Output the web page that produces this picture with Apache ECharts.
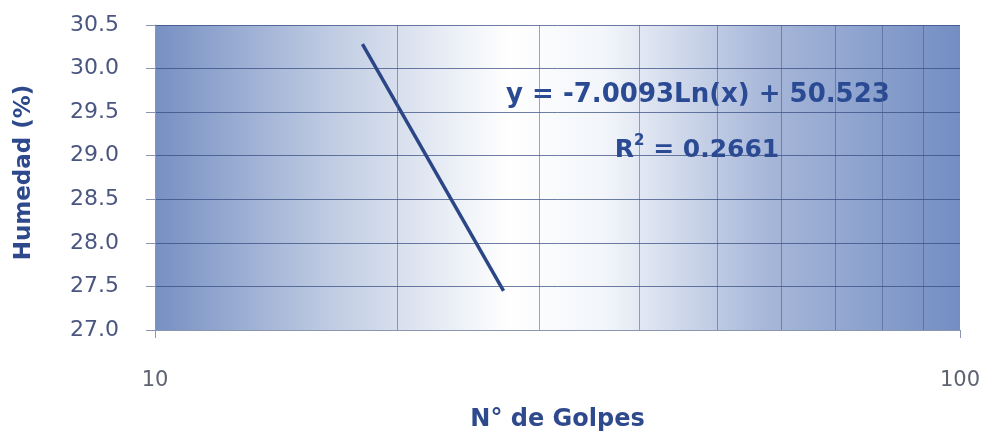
<!DOCTYPE html>
<html>
<head>
<meta charset="utf-8">
<script src="https://cdn.jsdelivr.net/npm/echarts@6/dist/echarts.min.js"></script>
<style>
  html, body { margin: 0; padding: 0; background: #fff; }
  #chart { width: 987px; height: 437px; }
</style>
</head>
<body>
<div id="chart"></div>
<script>
// datos
const golpes = [18.1, 27.1]
const humedad = [30.28, 27.45]
const lineasGolpes = [20, 30, 40, 50, 60, 70, 80, 90]
const ecuacion = 'y = -7.0093Ln(x) + 50.523'
const r2 = '0.2661'

const chart = echarts.init(document.getElementById('chart'))

const fondo = new echarts.graphic.LinearGradient(0, 0, 1, 0, [
    { offset: 0, color: '#7790c3' },
    { offset: 0.22, color: '#c0cce3' },
    { offset: 0.44, color: '#ffffff' },
    { offset: 0.56, color: '#f2f5fa' },
    { offset: 0.76, color: '#a7b7d9' },
    { offset: 1, color: '#738ec3' }
])

const option = {
    animation: false,
    grid: {
        left: 155,
        right: 27,
        top: 25,
        bottom: 105,
        show: true,
        backgroundColor: fondo,
        borderWidth: 0
    },
    xAxis: {
        type: 'log',
        logBase: 10,
        min: 10,
        max: 100,
        name: 'N° de Golpes',
        nameLocation: 'middle',
        nameGap: 78,
        nameTextStyle: { color: '#2e4a8c', fontSize: 24, fontWeight: 'bold', fontFamily: 'DejaVu Sans' },
        axisLine: { show: true, lineStyle: { color: '#8a96ad', width: 1 } },
        axisTick: { show: true, length: 8, lineStyle: { color: '#8a96ad' } },
        axisLabel: { color: '#5e6372', fontSize: 21, margin: 40, fontFamily: 'DejaVu Sans' },
        splitLine: { show: false }
    },
    yAxis: {
        type: 'value',
        min: 27,
        max: 30.5,
        interval: 0.5,
        name: 'Humedad (%)',
        nameLocation: 'middle',
        nameGap: 119,
        nameTextStyle: {
            color: '#2e4a8c', fontSize: 23, fontWeight: 'bold', fontFamily: 'DejaVu Sans',
            padding: [0, 0, 0, 10]
        },
        axisLine: { show: true, lineStyle: { color: '#8a96ad', width: 1 } },
        axisTick: { show: true, inside: false, length: 9, lineStyle: { color: '#8a96ad' } },
        axisLabel: {
            color: '#4a5680', fontSize: 22, margin: 36, fontFamily: 'DejaVu Sans',
            formatter: v => v.toFixed(1)
        },
        splitLine: { show: true, lineStyle: { color: 'rgba(50,72,125,0.7)', width: 1 } }
    },
    series: [
        {
            type: 'line',
            data: golpes.map((g, i) => [g, humedad[i]]),
            symbol: 'none',
            lineStyle: { color: '#2b4687', width: 3.5 },
            markLine: {
                silent: true,
                symbol: 'none',
                label: { show: false },
                lineStyle: { color: 'rgba(70,90,140,0.55)', width: 1, type: 'solid' },
                data: lineasGolpes.map(v => ({ xAxis: v }))
            }
        }
    ],
    graphic: [
        {
            type: 'text',
            x: 698,
            y: 95,
            style: {
                text: ecuacion,
                fill: '#2b4a94',
                font: 'bold 26px "DejaVu Sans"',
                align: 'center',
                verticalAlign: 'middle'
            }
        },
        {
            type: 'text',
            x: 697,
            y: 148,
            style: {
                text: '{r|R}{s|2}{r| = ' + r2 + '}',
                align: 'center',
                verticalAlign: 'middle',
                rich: {
                    r: { fill: '#2b4a94', font: 'bold 25px "DejaVu Sans"', verticalAlign: 'bottom' },
                    s: { fill: '#2b4a94', font: 'bold 15px "DejaVu Sans"', verticalAlign: 'top', padding: [0, 0, 14, 0] }
                }
            }
        }
    ]
}

chart.setOption(option)
</script>
</body>
</html>
